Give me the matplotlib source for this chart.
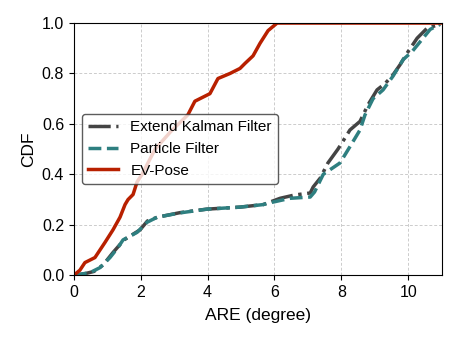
"""CDF of absolute rotation error for three pose estimators."""

import matplotlib.pyplot as plt

plt.rcParams["font.family"] = ["Liberation Sans", "DejaVu Sans"]

# Extend Kalman Filter (ARE in degree, CDF)
ekf_x = [0.0, 0.3, 0.6, 0.87, 1.17, 1.5, 1.98, 2.2, 2.5, 3.17, 3.98, 4.97, 5.66,
         6.17, 6.6, 7.07, 7.16, 7.37, 7.6, 7.9, 8.02, 8.26, 8.56, 8.8, 9.07,
         9.31, 9.55, 9.76, 10.0, 10.27, 10.57, 10.96]
ekf_y = [0.0, 0.005, 0.015, 0.04, 0.09, 0.14, 0.18, 0.215, 0.23, 0.248, 0.262,
         0.27, 0.28, 0.305, 0.318, 0.326, 0.35, 0.385, 0.445, 0.50, 0.525,
         0.576, 0.61, 0.676, 0.735, 0.76, 0.795, 0.835, 0.887, 0.94, 0.98, 0.995]

# Particle Filter
pf_x = [0.0, 0.48, 0.78, 1.08, 1.32, 1.47, 1.89, 2.19, 2.49, 3.17, 3.98, 4.97,
        5.66, 5.96, 6.47, 7.07, 7.2, 7.46, 7.96, 8.26, 8.56, 8.71, 8.95, 9.25,
        9.55, 9.85, 10.12, 10.36, 10.66, 10.96]
pf_y = [0.0, 0.01, 0.03, 0.07, 0.11, 0.14, 0.17, 0.21, 0.23, 0.247, 0.262, 0.27,
        0.28, 0.29, 0.305, 0.31, 0.33, 0.40, 0.445, 0.51, 0.576, 0.636, 0.70,
        0.735, 0.79, 0.855, 0.887, 0.926, 0.975, 0.995]

# EV-Pose
ev_x = [0.0, 0.18, 0.33, 0.63, 0.78, 0.93, 1.17, 1.38, 1.53, 1.62, 1.77, 1.89,
        2.04, 2.43, 2.9, 3.41, 3.62, 4.07, 4.31, 4.67, 4.97, 5.12, 5.36, 5.57,
        5.81, 6.08, 11.0]
ev_y = [0.0, 0.02, 0.05, 0.07, 0.10, 0.13, 0.18, 0.23, 0.28, 0.30, 0.32, 0.37,
        0.40, 0.50, 0.57, 0.636, 0.69, 0.72, 0.78, 0.80, 0.82, 0.84, 0.87, 0.92,
        0.97, 1.0, 1.0]

fig, ax = plt.subplots(figsize=(4.59, 3.44), dpi=100)

ax.plot(ekf_x, ekf_y, color="#444444", linestyle="-.", linewidth=2.5,
        label="Extend Kalman Filter")
ax.plot(pf_x, pf_y, color="#2E7F80", linestyle="--", linewidth=2.5,
        label="Particle Filter")
ax.plot(ev_x, ev_y, color="#B82000", linestyle="-", linewidth=2.5,
        label="EV-Pose")

ax.set_xlim(0, 11)
ax.set_ylim(0, 1.0)
ax.set_xticks([0, 2, 4, 6, 8, 10])
ax.set_yticks([0.0, 0.2, 0.4, 0.6, 0.8, 1.0])
ax.tick_params(labelsize=11.5)
ax.set_xlabel("ARE (degree)", fontsize=12.5, labelpad=6)
ax.set_ylabel("CDF", fontsize=12.5)
ax.grid(True, linestyle=(0, (3, 2)), color="#cccccc", linewidth=0.7)

leg = ax.legend(loc="center left", bbox_to_anchor=(0.0, 0.5), fontsize=11,
                framealpha=0.8, edgecolor="#333333")
leg.get_frame().set_linewidth(1.0)

fig.subplots_adjust(left=0.161, right=0.962, top=0.933, bottom=0.2)
fig.savefig("out.png", dpi=100)
plt.close(fig)
